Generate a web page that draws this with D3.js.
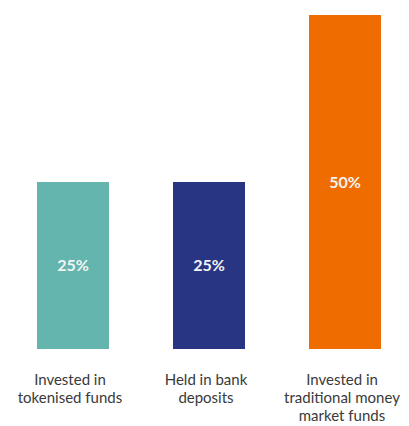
<!DOCTYPE html>
<html>
<head>
<meta charset="utf-8">
<script src="https://cdn.jsdelivr.net/npm/d3@7"></script>
<style>
  html, body { margin: 0; padding: 0; background: #ffffff; }
  svg { display: block; }
</style>
</head>
<body>
<svg id="chart" width="409" height="426"></svg>
<script>
// Allocation shares
const categories = ["Invested in tokenised funds", "Held in bank deposits", "Invested in traditional money market funds"];
const labelLines = [
  ["Invested in", "tokenised funds"],
  ["Held in bank", "deposits"],
  ["Invested in", "traditional money", "market funds"]
];
const values = [25, 25, 50];
const colors = ["#63b5ad", "#283583", "#ef6c00"];

const svg = d3.select("#chart");

const x = d3.scaleBand()
  .domain(categories)
  .range([37, 381])
  .paddingInner(0.4706)
  .paddingOuter(0);

const y = d3.scaleLinear()
  .domain([0, 50])
  .range([349, 15]);

const data = categories.map((c, i) => ({ c, v: values[i], col: colors[i], lines: labelLines[i] }));

// Bars
svg.selectAll("rect.bar")
  .data(data)
  .join("rect")
  .attr("class", "bar")
  .attr("x", d => x(d.c))
  .attr("y", d => y(d.v))
  .attr("width", x.bandwidth())
  .attr("height", d => y(0) - y(d.v))
  .attr("fill", d => d.col);

// Value labels inside bars
svg.selectAll("text.val")
  .data(data)
  .join("text")
  .attr("class", "val")
  .attr("x", d => x(d.c) + x.bandwidth() / 2)
  .attr("y", d => (y(d.v) + y(0)) / 2)
  .attr("dy", "0.35em")
  .attr("text-anchor", "middle")
  .attr("font-family", "Lato, 'Open Sans', sans-serif")
  .attr("font-weight", "bold")
  .attr("font-size", "16px")
  .attr("fill", "#f4f4f4")
  .text(d => d.v + "%");

// Category labels under bars
const cat = svg.selectAll("text.cat")
  .data(data)
  .join("text")
  .attr("class", "cat")
  .attr("text-anchor", "middle")
  .attr("font-family", "Lato, 'Open Sans', sans-serif")
  .attr("font-size", "15px")
  .attr("fill", "#3a3a3a");

cat.selectAll("tspan")
  .data(d => d.lines.map(l => ({ l, cx: x(d.c) + x.bandwidth() / 2 })))
  .join("tspan")
  .attr("x", t => t.cx - 3)
  .attr("y", (t, i) => 385 + i * 18)
  .text(t => t.l);
</script>
</body>
</html>
